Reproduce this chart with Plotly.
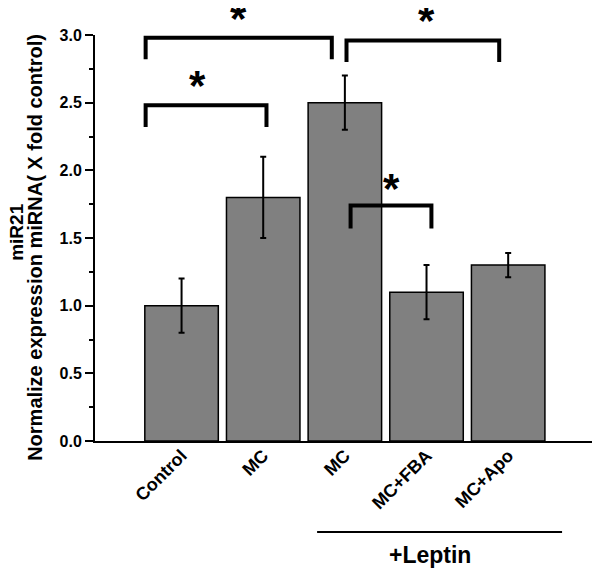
import plotly.graph_objects as go

categories = ["Control", "MC", "MC", "MC+FBA", "MC+Apo"]
values = [1.0, 1.8, 2.5, 1.1, 1.3]
errors = [0.2, 0.3, 0.2, 0.2, 0.09]
y_ticks = [0.0, 0.5, 1.0, 1.5, 2.0, 2.5, 3.0]

# significance brackets: (left x, right x, top y, leg bottom y)
brackets = [
    (-0.44, 1.04, 2.48, 2.32),
    (-0.44, 1.84, 2.98, 2.82),
    (2.02, 3.89, 2.96, 2.80),
    (2.07, 3.06, 1.74, 1.57),
]
xs = list(range(len(categories)))

FONT = "Liberation Sans, Arial, sans-serif"

fig = go.Figure()
fig.add_trace(go.Bar(
    x=xs, y=values,
    marker=dict(color="#808080", line=dict(color="black", width=1.5)),
    error_y=dict(type="data", array=errors, color="black", thickness=2, width=3),
    width=0.9,
))

shapes = []
for x0, x1, yt, yb in brackets:
    shapes.append(dict(type="path", xref="x", yref="y",
                       path=f"M {x0},{yb} L {x0},{yt} L {x1},{yt} L {x1},{yb}",
                       line=dict(color="black", width=4)))
# +Leptin underline
shapes.append(dict(type="line", xref="x", yref="paper", x0=1.66, x1=4.66, y0=-0.224, y1=-0.224,
                   line=dict(color="black", width=2)))

star_font = dict(family=FONT, size=42, color="black", weight="bold")
annotations = [
    dict(x=0.20, y=2.625, xref="x", yref="y", text="*", showarrow=False, font=star_font, yanchor="middle"),
    dict(x=0.70, y=1.040, xref="x", yref="paper", text="*", showarrow=False, font=star_font, yanchor="middle"),
    dict(x=3.0, y=1.036, xref="x", yref="paper", text="*", showarrow=False, font=star_font, yanchor="middle"),
    dict(x=2.57, y=1.864, xref="x", yref="y", text="*", showarrow=False, font=star_font, yanchor="middle"),
    dict(x=3.04, y=-0.281, xref="x", yref="paper", text="+Leptin", showarrow=False, yanchor="middle",
         font=dict(family=FONT, size=23, color="black", weight="bold")),
    dict(x=0, xshift=-78.5, y=0.514, xref="paper", yref="paper", text="miR21", textangle=-90,
         showarrow=False, font=dict(family=FONT, size=19, color="black", weight="bold"),
         xanchor="center", yanchor="middle"),
    dict(x=0, xshift=-59.5, y=0.477, xref="paper", yref="paper",
         text="Normalize expression miRNA( X fold control)", textangle=-90,
         showarrow=False, font=dict(family=FONT, size=20, color="black", weight="bold"),
         xanchor="center", yanchor="middle"),
]

fig.update_layout(
    width=600, height=571,
    margin=dict(l=87, r=10, t=27, b=138),
    plot_bgcolor="white", paper_bgcolor="white",
    showlegend=False,
    shapes=shapes, annotations=annotations,
    font=dict(family=FONT, color="black"),
)
fig.update_xaxes(
    range=[-1.06, 5.1], tickvals=xs, ticktext=categories, tickangle=-45, automargin=False,
    showline=True, linecolor="black", linewidth=2, ticks="", showgrid=False, zeroline=False,
    ticklabelstandoff=-5,
    tickfont=dict(family=FONT, size=18, color="black", weight="bold"),
)
fig.update_yaxes(
    range=[0, 3.0], tickvals=y_ticks, ticktext=[f"{v:.1f}" for v in y_ticks], automargin=False,
    showline=True, linecolor="black", linewidth=2, ticks="outside", ticklen=8, tickwidth=2,
    tickcolor="black", showgrid=False, zeroline=False,
    minor=dict(ticks="outside", ticklen=4, tickwidth=2, tickcolor="black", dtick=0.25, showgrid=False),
    tickfont=dict(family=FONT, size=16, color="black", weight="bold"),
)

fig.write_html("out.html")
